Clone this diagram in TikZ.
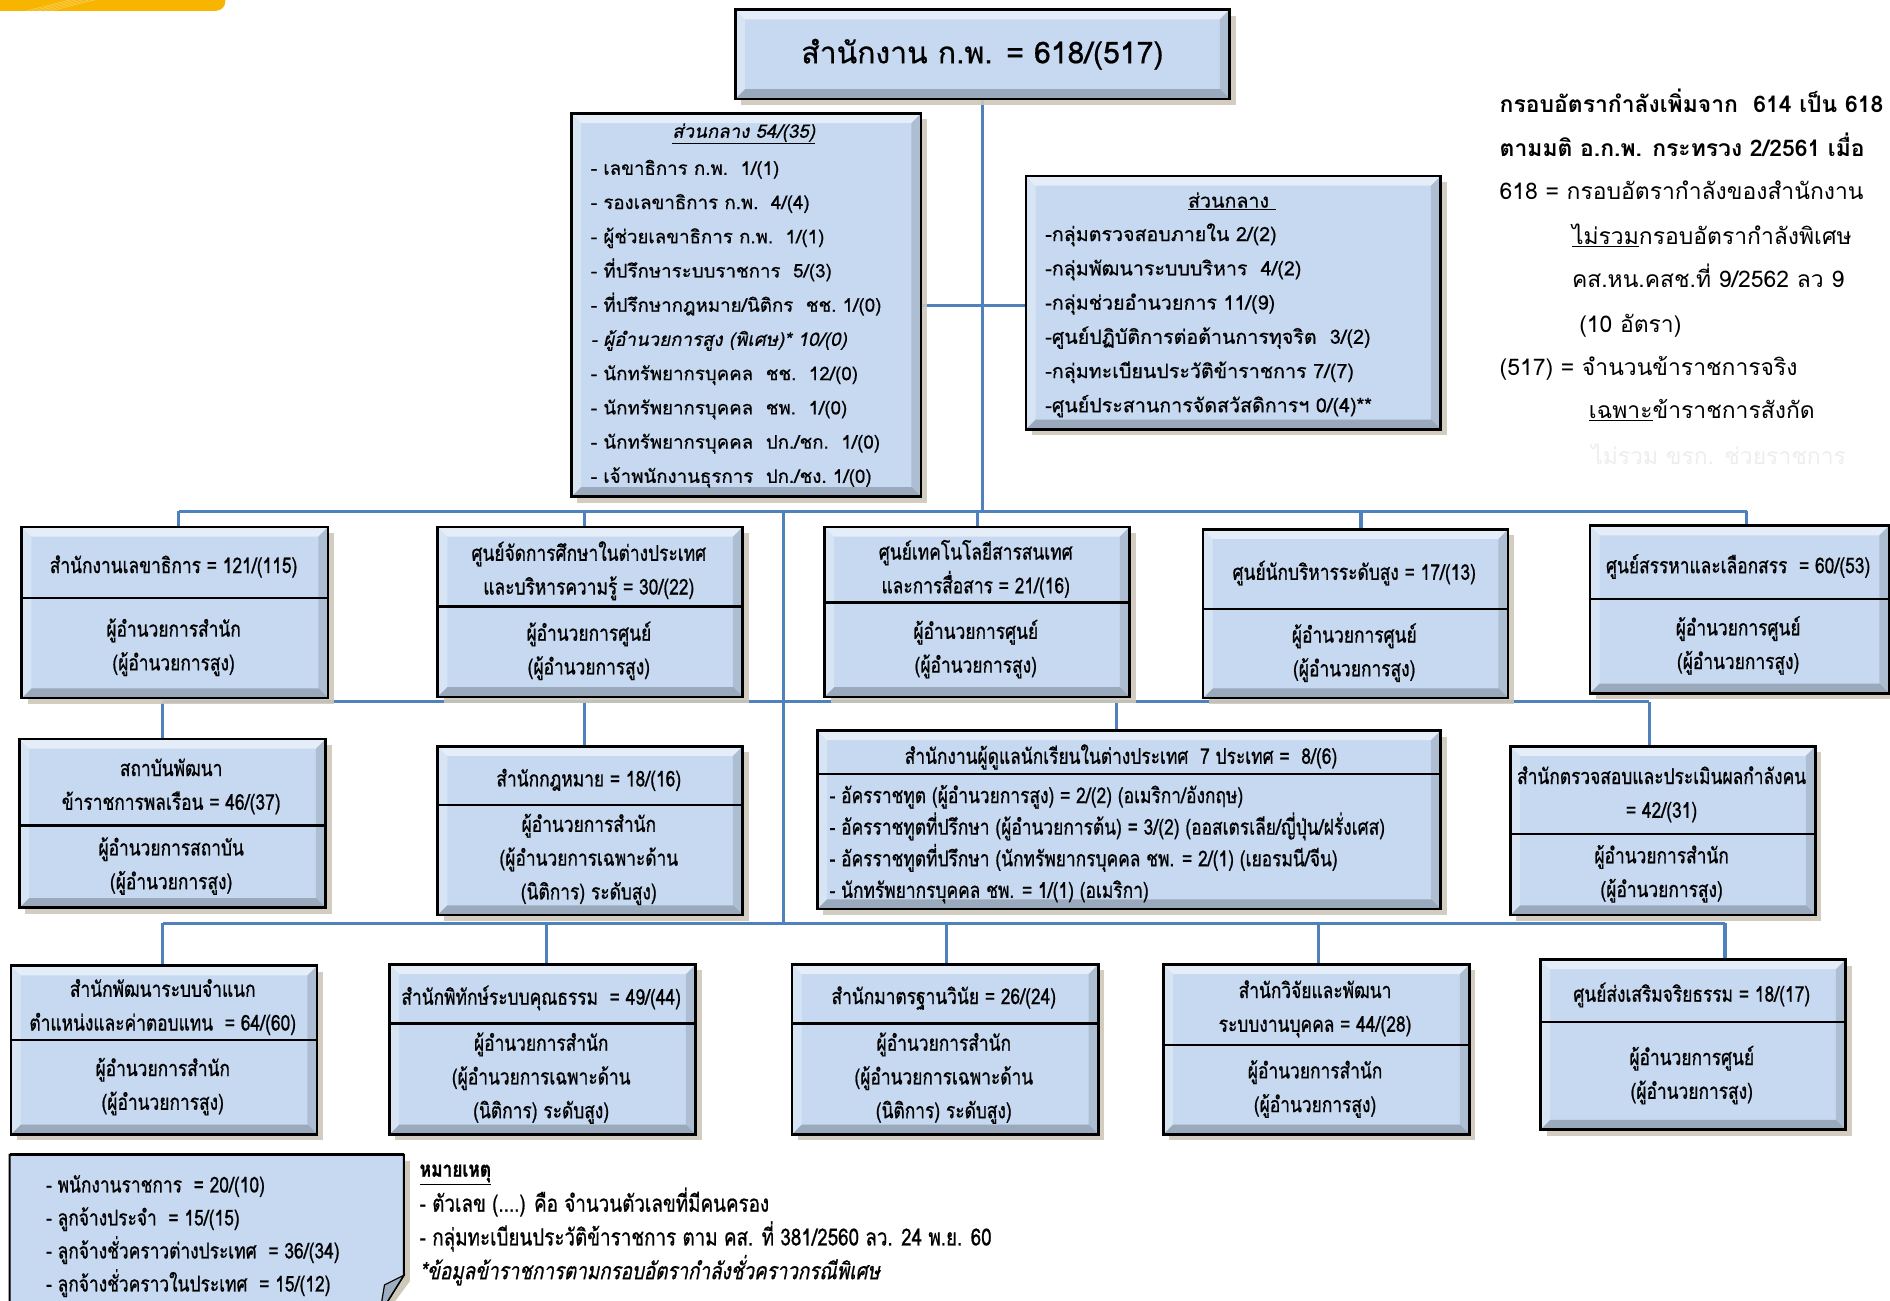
\documentclass[tikz,border=0pt]{standalone}
\usepackage{fontspec}
\setmainfont[Script=Thai]{Loma}
\newfontfamily\boxfont[Script=Thai,FakeStretch=0.8,FakeBold=0.8]{Loma}
\newfontfamily\listfont[Script=Thai,FakeBold=0.6]{Loma}
\newfontfamily\slantfont[Script=Thai,FakeSlant=0.2,FakeBold=0.6]{Loma}
\newfontfamily\condslant[Script=Thai,FakeStretch=0.8,FakeSlant=0.2,FakeBold=0.8]{Loma}
\usetikzlibrary{shadows,calc}
\pgfdeclarelayer{bg}
\pgfsetlayers{bg,main}
\definecolor{boxfill}{RGB}{198,217,240}
\definecolor{connblue}{RGB}{79,129,189}
\definecolor{gold}{RGB}{247,181,0}
\definecolor{shadowc}{RGB}{205,200,185}
\tikzset{
  box/.style={draw=black, line width=2.2pt, fill=boxfill, inner sep=0pt,
    drop shadow={shadow xshift=5pt, shadow yshift=-5pt, fill=shadowc, opacity=0.9},
    path picture={
      \fill[white,opacity=.55] (path picture bounding box.north west) -- (path picture bounding box.north east)
        -- ([xshift=-8pt,yshift=-8pt]path picture bounding box.north east) -- ([xshift=8pt,yshift=-8pt]path picture bounding box.north west) -- cycle;
      \fill[black,opacity=.22] (path picture bounding box.south west) -- (path picture bounding box.south east)
        -- ([xshift=-8pt,yshift=8pt]path picture bounding box.south east) -- ([xshift=8pt,yshift=8pt]path picture bounding box.south west) -- cycle;
      \fill[white,opacity=.3] (path picture bounding box.north west) -- (path picture bounding box.south west)
        -- ([xshift=8pt,yshift=8pt]path picture bounding box.south west) -- ([xshift=8pt,yshift=-8pt]path picture bounding box.north west) -- cycle;
      \fill[black,opacity=.12] (path picture bounding box.north east) -- (path picture bounding box.south east)
        -- ([xshift=-8pt,yshift=8pt]path picture bounding box.south east) -- ([xshift=-8pt,yshift=-8pt]path picture bounding box.north east) -- cycle;
    }},
  divider/.style={draw=black, line width=2pt},
  conn/.style={draw=connblue, line width=2.6pt},
  boxtext/.style={font=\boxfont\fontsize{18}{28}\selectfont, align=center, inner sep=0pt},
  listtext/.style={font=\listfont\fontsize{15.5}{18}\selectfont, anchor=west, inner sep=0pt, text height=16pt, text depth=4pt},
  condlist/.style={font=\boxfont\fontsize{18}{20}\selectfont, anchor=west, inner sep=0pt, text height=16.5pt, text depth=4pt},
  sidetext/.style={font=\fontsize{19}{22}\selectfont, anchor=west, inner sep=0pt, text height=19pt, text depth=4pt},
}
% name, x1, y1, x2, y2, ydiv, header, lower
\newcommand\orgbox[8]{%
  \node[box, anchor=north west, minimum width={#4-#2}, minimum height={#5-#3}] (#1) at (#2,#3) {};
  \draw[divider] (#2,#6) -- (#4,#6);
  \node[boxtext] (#1-h) at ({(#2+#4)/2},{(#3+#6)/2+4}) {#7};
  \node[boxtext] (#1-d) at ({(#2+#4)/2},{(#6+#5)/2}) {#8};
}
% node, xshift, bus
\newcommand\dropline[3]{%
  \coordinate (#1-top) at ([xshift=#2pt]#1.north);
  \draw[conn] (#1-top) -- (#1-top |- #3);
}
\begin{document}
\begin{tikzpicture}[x=1pt,y=-1pt]
\useasboundingbox (0,0) rectangle (1568,1079);
\clip (0,0) rectangle (1568,1079);

% yellow bar
\fill[gold, rounded corners=8pt] (-20,-20) rectangle (187,9);
\foreach \k in {0,...,4} \draw[white,opacity=.35,line width=.5pt] ({22+5*\k},9) -- ({62+5*\k},-1);

% top box
\node[box, minimum width=410, minimum height=74, font=\listfont\fontsize{25}{30}\selectfont] (top) at (815,45) {สำนักงาน ก.พ. = 618/(517)};

% central boxes
\node[box, anchor=north west, minimum width=290, minimum height=318] (c1) at (473,93) {};
\node[font=\slantfont\fontsize{15.5}{18}\selectfont, inner sep=0pt] (c1-t) at (617,111) {\underline{ส่วนกลาง 54/(35)}};
\foreach \t [count=\i] in {{- เลขาธิการ ก.พ.~~1/(1)},{- รองเลขาธิการ ก.พ.~~4/(4)},{- ผู้ช่วยเลขาธิการ ก.พ.~~1/(1)},{- ที่ปรึกษาระบบราชการ~~5/(3)},{- ที่ปรึกษากฎหมาย/นิติกร~~ชช.~1/(0)},{\slantfont - ผู้อำนวยการสูง (พิเศษ)*~10/(0)},{- นักทรัพยากรบุคคล~~ชช.~~12/(0)},{- นักทรัพยากรบุคคล~~ชพ.~~1/(0)},{- นักทรัพยากรบุคคล~~ปก./ชก.~~1/(0)},{- เจ้าพนักงานธุรการ~~ปก./ชง.~1/(0)}}
  \node[listtext] (c1-l\i) at (490,{139+28.4*(\i-1)}) {\t};

\node[box, anchor=north west, minimum width=344, minimum height=210] (c2) at (850,145) {};
\node[font=\listfont\fontsize{16.3}{18}\selectfont, inner sep=0pt] (c2-t) at (1022,167) {\underline{ส่วนกลาง~}};
\foreach \t [count=\i] in {{-กลุ่มตรวจสอบภายใน 2/(2)},{-กลุ่มพัฒนาระบบบริหาร~~4/(2)},{-กลุ่มช่วยอำนวยการ 11/(9)},{-ศูนย์ปฏิบัติการต่อต้านการทุจริต~~3/(2)},{-กลุ่มทะเบียนประวัติข้าราชการ 7/(7)},{-ศูนย์ประสานการจัดสวัสดิการฯ 0/(4)**}}
  \node[listtext, font=\listfont\fontsize{16.3}{18}\selectfont] (c2-l\i) at (867,{194+28.4*(\i-1)}) {\t};

% side text
\node[sidetext, font=\bfseries\fontsize{19}{22}\selectfont] (s1) at (1244,86) {กรอบอัตรากำลังเพิ่มจาก~~614 เป็น 618};
\node[sidetext, font=\bfseries\fontsize{19}{22}\selectfont] (s2) at (1244,122) {ตามมติ อ.ก.พ. กระทรวง 2/2561 เมื่อ};
\node[sidetext] (s3) at (1244,158) {618 = กรอบอัตรากำลังของสำนักงาน};
\node[sidetext] (s4) at (1304,195) {\underline{ไม่รวม}กรอบอัตรากำลังพิเศษ};
\node[sidetext] (s5) at (1304,231) {คส.หน.คสช.ที่ 9/2562 ลว 9};
\node[sidetext] (s6) at (1310,268) {(10 อัตรา)};
\node[sidetext] (s7) at (1244,304) {(517) = จำนวนข้าราชการจริง};
\node[sidetext] (s8) at (1318,340) {\underline{เฉพาะ}ข้าราชการสังกัด};
\node[sidetext, text=black!7] (s9) at (1320,378) {ไม่รวม ขรก. ช่วยราชการ};

% row 1
\orgbox{r1a}{17}{436}{271}{578}{496}{สำนักงานเลขาธิการ = 121/(115)}{ผู้อำนวยการสำนัก\\(ผู้อำนวยการสูง)}
\orgbox{r1b}{362}{436}{615}{577}{503}{ศูนย์จัดการศึกษาในต่างประเทศ\\และบริหารความรู้ = 30/(22)}{ผู้อำนวยการศูนย์\\(ผู้อำนวยการสูง)}
\orgbox{r1c}{683}{436}{936}{577}{500}{ศูนย์เทคโนโลยีสารสนเทศ\\และการสื่อสาร = 21/(16)}{ผู้อำนวยการศูนย์\\(ผู้อำนวยการสูง)}
\orgbox{r1d}{997}{438}{1250}{578}{505}{ศูนย์นักบริหารระดับสูง = 17/(13)}{ผู้อำนวยการศูนย์\\(ผู้อำนวยการสูง)}
\orgbox{r1e}{1318}{435}{1566}{574}{497}{ศูนย์สรรหาและเลือกสรร~ = 60/(53)}{ผู้อำนวยการศูนย์\\(ผู้อำนวยการสูง)}

% row 2
\orgbox{r2a}{15}{612}{269}{752}{685}{สถาบันพัฒนา\\ข้าราชการพลเรือน = 46/(37)}{ผู้อำนวยการสถาบัน\\(ผู้อำนวยการสูง)}
\orgbox{r2b}{362}{618}{615}{758}{668}{สำนักกฎหมาย = 18/(16)}{ผู้อำนวยการสำนัก\\(ผู้อำนวยการเฉพาะด้าน\\(นิติการ) ระดับสูง)}
\node[box, anchor=north west, minimum width=517, minimum height=148] (r2c) at (677,605) {};
\draw[divider] (677,642) -- (1194,642);
\node[boxtext] (r2c-h) at (930,628) {สำนักงานผู้ดูแลนักเรียนในต่างประเทศ~~7 ประเทศ =~~8/(6)};
\foreach \t [count=\i] in {{- อัครราชทูต (ผู้อำนวยการสูง) = 2/(2) (อเมริกา/อังกฤษ)},{- อัครราชทูตที่ปรึกษา (ผู้อำนวยการต้น) = 3/(2) (ออสเตรเลีย/ญี่ปุ่น/ฝรั่งเศส)},{- อัครราชทูตที่ปรึกษา (นักทรัพยากรบุคคล ชพ. = 2/(1) (เยอรมนี/จีน)},{- นักทรัพยากรบุคคล ชพ. = 1/(1) (อเมริกา)}}
  \node[condlist] (r2c-l\i) at (688,{660+26.2*(\i-1)}) {\t};
\orgbox{r2d}{1252}{618}{1505}{758}{692}{สำนักตรวจสอบและประเมินผลกำลังคน\\= 42/(31)}{ผู้อำนวยการสำนัก\\(ผู้อำนวยการสูง)}

% row 3
\orgbox{r3a}{8}{800}{262}{940}{863}{สำนักพัฒนาระบบจำแนก\\ตำแหน่งและค่าตอบแทน~~= 64/(60)}{ผู้อำนวยการสำนัก\\(ผู้อำนวยการสูง)}
\orgbox{r3b}{322}{799}{576}{940}{849}{สำนักพิทักษ์ระบบคุณธรรม~~= 49/(44)}{ผู้อำนวยการสำนัก\\(ผู้อำนวยการเฉพาะด้าน\\(นิติการ) ระดับสูง)}
\orgbox{r3c}{656}{799}{910}{940}{849}{สำนักมาตรฐานวินัย = 26/(24)}{ผู้อำนวยการสำนัก\\(ผู้อำนวยการเฉพาะด้าน\\(นิติการ) ระดับสูง)}
\orgbox{r3d}{964}{799}{1218}{940}{867}{สำนักวิจัยและพัฒนา\\ระบบงานบุคคล = 44/(28)}{ผู้อำนวยการสำนัก\\(ผู้อำนวยการสูง)}
\orgbox{r3e}{1277}{795}{1530}{936}{848}{ศูนย์ส่งเสริมจริยธรรม = 18/(17)}{ผู้อำนวยการศูนย์\\(ผู้อำนวยการสูง)}

% note box (folded corner)
\path[fill=shadowc] (13,963) -- (340,963) -- (340,1063) -- (320,1090) -- (13,1090) -- cycle;
\path[fill=boxfill, draw=black, line width=1.6pt] (8,958) -- (335,958) -- (335,1058) -- (315,1090) -- (8,1090) -- cycle;
\draw[black, line width=2.5pt] (8,958) -- (335,958);
\path[fill=boxfill!80!black, draw=black, line width=1pt] (335,1058) -- (319,1066) -- (315,1090) -- cycle;
\foreach \t [count=\i] in {{- พนักงานราชการ~~= 20/(10)},{- ลูกจ้างประจำ~~= 15/(15)},{- ลูกจ้างชั่วคราวต่างประเทศ~~= 36/(34)},{- ลูกจ้างชั่วคราวในประเทศ~~= 15/(12)}}
  \node[condlist] (n-l\i) at (38,{983+27.4*(\i-1)}) {\t};

% remarks
\node[condlist, font=\boxfont\bfseries\fontsize{18}{20}\selectfont] (rm0) at (348,970) {\underline{หมายเหตุ}};
\node[condlist, font=\boxfont\fontsize{19.5}{20}\selectfont] (rm1) at (348,999) {- ตัวเลข (....) คือ จำนวนตัวเลขที่มีคนครอง};
\node[condlist, font=\boxfont\fontsize{19.5}{20}\selectfont] (rm2) at (348,1027) {- กลุ่มทะเบียนประวัติข้าราชการ ตาม คส. ที่ 381/2560 ลว. 24 พ.ย. 60};
\node[condlist, font=\condslant\fontsize{19.5}{20}\selectfont] (rm3) at (348,1055) {*ข้อมูลข้าราชการตามกรอบอัตรากำลังชั่วคราวกรณีพิเศษ};

% connectors
\begin{pgfonlayer}{bg}
\coordinate (busA) at (0,424);
\coordinate (busB) at (0,582);
\coordinate (busC) at (0,766);
\coordinate (trunk) at (650,424);
\draw[conn] (top.south) -- (top.south |- busA);
\draw[conn] (c1.east) -- (c1.east -| c2.west);
\dropline{r1a}{3}{busA}
\dropline{r1b}{-4.5}{busA}
\dropline{r1c}{0}{busA}
\dropline{r1d}{4.5}{busA}
\dropline{r1e}{6}{busA}
\draw[conn] (r1a-top |- busA) -- (r1e-top |- busA);
\draw[conn] (trunk) -- (trunk |- busC);
\dropline{r2a}{-8}{busB}
\dropline{r2b}{-4.5}{busB}
\dropline{r2c}{-10.5}{busB}
\dropline{r2d}{-11.5}{busB}
\draw[conn] (r2a-top |- busB) -- (r2d-top |- busB);
\dropline{r3a}{-1}{busC}
\dropline{r3b}{3}{busC}
\dropline{r3c}{1}{busC}
\dropline{r3d}{2}{busC}
\dropline{r3e}{26.5}{busC}
\draw[conn] (r3a-top |- busC) -- (r3e-top |- busC);
\end{pgfonlayer}
\end{tikzpicture}
\end{document}
